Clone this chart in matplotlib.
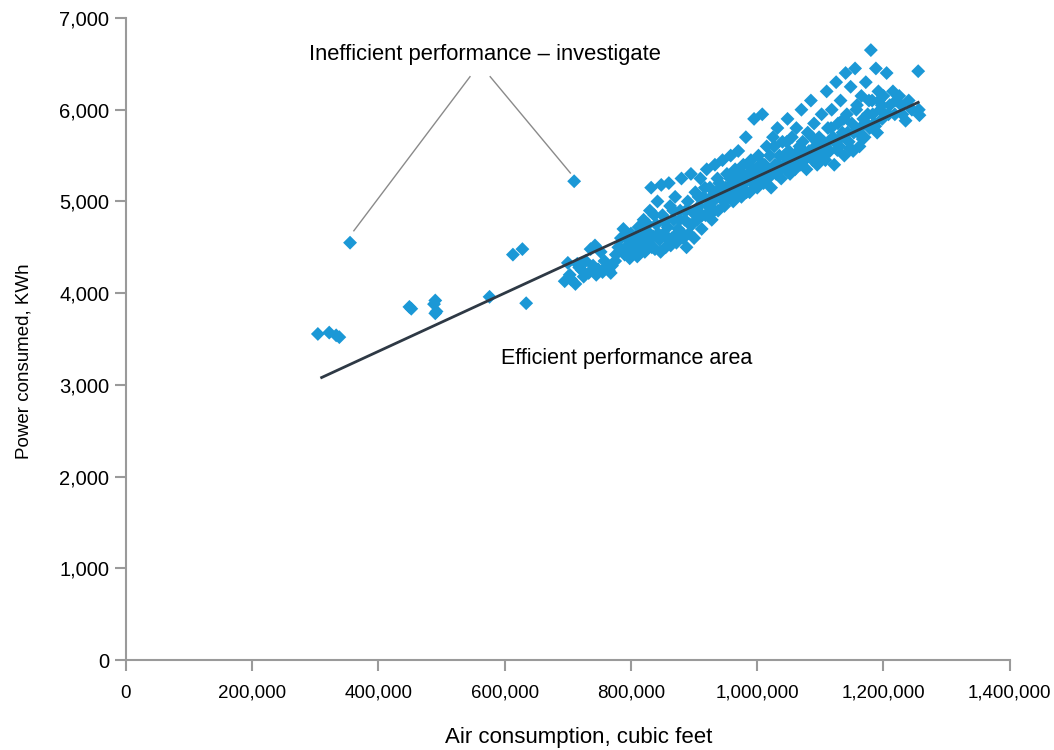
import matplotlib.pyplot as plt
from matplotlib.ticker import FuncFormatter

# air consumption (thousand cubic feet) and power consumed (KWh)
air_k = [
	304, 322, 333, 338, 355, 449, 452, 488, 490, 490, 492, 576, 613, 628, 634, 710,
	695, 700, 703, 712, 718, 722, 728, 733, 736, 740, 743, 748, 752, 755, 760, 765,
	770, 776, 780, 784, 788, 790, 795, 798,
	800, 803, 806, 810, 812, 815, 818, 820, 822, 825, 828, 830, 832, 835, 838, 840,
	842, 845, 848, 850, 852, 855, 858, 860, 862, 865, 868, 870, 872, 875, 878, 880,
	882, 885, 888, 890, 893, 895, 898, 900,
	902, 905, 908, 910, 912, 915, 918, 920, 922, 925, 928, 930, 933, 935, 938, 940,
	942, 945, 948, 950, 952, 955, 958, 960, 962, 965, 968, 970, 972, 975, 978, 980,
	982, 985, 988, 990, 992, 995, 997, 1000,
	1002, 1005, 1008, 1010, 1012, 1015, 1018, 1020, 1022, 1025, 1028, 1030, 1032, 1035,
	1038, 1040, 1042, 1045, 1048, 1050, 1052, 1055, 1058, 1060, 1062, 1065, 1068, 1070,
	1072, 1075, 1078, 1080, 1082, 1085, 1088, 1090, 1092, 1095, 1098, 1100,
	1102, 1105, 1108, 1110, 1112, 1115, 1118, 1120, 1122, 1125, 1128, 1130, 1132, 1135,
	1138, 1140, 1142, 1145, 1148, 1150, 1152, 1155, 1158, 1160, 1162, 1165, 1168, 1170,
	1172, 1175, 1178, 1180, 1182, 1185, 1188, 1190, 1192, 1195, 1198,
	1200, 1205, 1210, 1215, 1220, 1225, 1230, 1235, 1240, 1255, 1256, 1257,
	705, 715, 725, 745, 758, 768, 775, 785, 792, 796,
	802, 808, 813, 817, 823, 827, 833, 837, 843, 847, 853, 857, 863, 867, 873, 877,
	883, 887, 892, 897,
	903, 907, 913, 917, 923, 927, 932, 937, 943, 947, 953, 957, 963, 967, 973, 977,
	983, 987, 993, 998,
	1003, 1013, 1023, 1033, 1043, 1053, 1063, 1073, 1083, 1093,
	1103, 1113, 1123, 1133, 1143, 1153, 1163, 1173, 1183, 1193,
	1208, 1218, 1228, 1245,
	1007, 1017, 1027, 1037, 1047, 1057, 1067, 1077, 1087, 1097,
	1107, 1117, 1127, 1137, 1147, 1157, 1167, 1177, 1187, 1197,
]
power = [
	3555, 3570, 3540, 3520, 4550, 3850, 3830, 3880, 3920, 3780, 3800, 3960, 4420, 4480, 3890, 5220,
	4130, 4330, 4200, 4100, 4280, 4250, 4350, 4220, 4480, 4300, 4520, 4260, 4450, 4230, 4280, 4250,
	4300, 4420, 4500, 4600, 4700, 4420, 4520, 4380,
	4650, 4460, 4550, 4400, 4720, 4500, 4600, 4800, 4450, 4680, 4550, 4900, 5150, 4620, 4480, 4750,
	5000, 4580, 5180, 4850, 4650, 4500, 4720, 5200, 4950, 4600, 4800, 5050, 4550, 4700, 4900, 5250,
	4650, 4800, 4500, 5000, 4750, 5300, 4880, 4600,
	5100, 4800, 4950, 5250, 4700, 5050, 4850, 5350, 4950, 5150, 4800, 5000, 5400, 5100, 4900, 5200,
	5050, 5450, 4950, 5150, 5300, 5050, 5500, 5200, 5000, 5350, 5100, 5550, 5250, 5050, 5400, 5200,
	5700, 5300, 5100, 5450, 5250, 5900, 5350, 5150,
	5500, 5300, 5950, 5200, 5400, 5600, 5300, 5500, 5150, 5700, 5400, 5300, 5800, 5500,
	5250, 5650, 5400, 5350, 5900, 5550, 5300, 5700, 5450, 5350, 5800, 5550, 5400, 6000,
	5650, 5450, 5350, 5750, 5550, 6100, 5450, 5850, 5600, 5400, 5700, 5500,
	5950, 5650, 5450, 6200, 5800, 5550, 6000, 5700, 5400, 6300, 5850, 5600, 6100, 5750,
	5500, 6400, 5950, 5650, 6250, 5850, 5550, 6450, 6050, 5750, 5600, 6150, 5900, 5700,
	6300, 5950, 5800, 6650, 6100, 5850, 6450, 5750, 6200, 6000, 5900,
	6150, 6400, 6050, 6200, 6100, 6150, 5950, 5880, 6100, 6420, 6000, 5940,
	4150, 4320, 4180, 4200, 4350, 4220, 4350, 4480, 4600, 4450,
	4550, 4620, 4430, 4700, 4580, 4750, 4500, 4850, 4650, 4450, 4780, 4600, 4520, 4900, 4650, 4800,
	4600, 4900, 4650, 4750,
	4900, 5050, 4850, 5150, 4850, 5050, 4900, 5250, 5150, 5000, 5100, 5250, 5150, 5300, 5150, 5300,
	5100, 5400, 5200, 5300,
	5250, 5350, 5350, 5400, 5500, 5450, 5500, 5550, 5500, 5550,
	5600, 5650, 5650, 5700, 5750, 5750, 5800, 5850, 5950, 6100,
	5950, 5950, 6050, 6000,
	5420, 5250, 5600, 5350, 5650, 5400, 5600, 5480, 5700, 5620,
	5500, 5800, 5560, 5900, 5580, 6000, 5680, 6100, 5820, 6050,
]

# fitted trend line end points
trend_air_k = [310, 1255]
trend_power = [3080, 6080]

x_ticks = [0, 200000, 400000, 600000, 800000, 1000000, 1200000, 1400000]
y_ticks = [0, 1000, 2000, 3000, 4000, 5000, 6000, 7000]

outliers = [(355, 4550), (710, 5220)]

sans = ['Liberation Sans', 'DejaVu Sans']

fig = plt.figure(figsize=(10.54, 7.5), dpi=100)
ax = fig.add_axes([0.1195, 0.12, 0.8385, 0.856])

ax.scatter([a * 1000 for a in air_k], power, marker='D', s=50, color='#1b98d6',
	edgecolors='none', zorder=2)
ax.plot([a * 1000 for a in trend_air_k], trend_power, color='#2e3945', lw=2, zorder=3)

ax.set_xlim(0, 1400000)
ax.set_ylim(0, 7000)
ax.set_xticks(x_ticks)
ax.set_yticks(y_ticks)
ax.xaxis.set_major_formatter(FuncFormatter(lambda v, p: '{:,.0f}'.format(v)))
ax.yaxis.set_major_formatter(FuncFormatter(lambda v, p: '{:,.0f}'.format(v)))

for s in ['top', 'right']:
	ax.spines[s].set_visible(False)
for s in ['left', 'bottom']:
	ax.spines[s].set_color('#9a9a9a')
	ax.spines[s].set_linewidth(1.5)
ax.tick_params(axis='both', color='#9a9a9a', width=1.5, length=8, direction='out')
ax.tick_params(axis='y', pad=4)
ax.tick_params(axis='x', pad=10)
for lab in ax.get_xticklabels():
	lab.set_family(sans)
	lab.set_fontsize(13.5)
for lab in ax.get_yticklabels():
	lab.set_family(sans)
	lab.set_fontsize(14.5)

ax.set_xlabel('Air consumption, cubic feet', fontsize=16, family=sans)
ax.set_ylabel('Power consumed, KWh', fontsize=13.5, family=sans)
ax.xaxis.set_label_coords(0.512, -0.104)
ax.yaxis.set_label_coords(-0.106, 0.466)

ax.text(569000, 6600, 'Inefficient performance \u2013 investigate', ha='center',
	va='center', fontsize=15.8, family=sans)
ax.text(793000, 3290, 'Efficient performance area', ha='center', va='center',
	fontsize=15.5, family=sans)

starts = [(545000, 6360), (577000, 6360)]
ends = [(outliers[0][0] * 1000 + 6000, outliers[0][1] + 130),
	(outliers[1][0] * 1000 - 6000, outliers[1][1] + 90)]
for (sx, sy), (ex, ey) in zip(starts, ends):
	ax.plot([sx, ex], [sy, ey], color='#8a8a8a', lw=1, zorder=1)

fig.savefig('out.png', dpi=100)
